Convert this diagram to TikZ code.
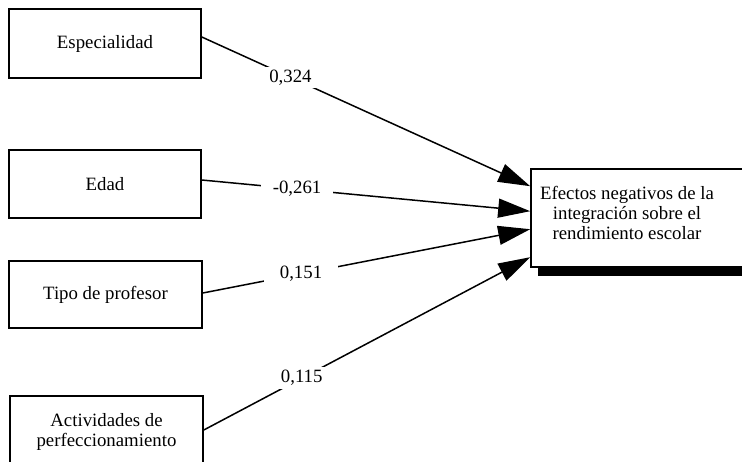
\documentclass[tikz,border=0pt]{standalone}
\usepackage{fontspec}
\setmainfont{Liberation Serif}
\usetikzlibrary{arrows.meta}
\begin{document}
\begin{tikzpicture}[x=1pt,y=-1pt,
  txt/.style={font=\fontsize{18.8}{20}\selectfont},
  box/.style={txt, draw, line width=1.6pt, minimum width=192pt, align=center, inner sep=0pt},
  conn/.style={line width=1.5pt, -{Triangle[length=32pt,width=19pt]}},
  coef/.style={txt, fill=white, inner ysep=3pt}]
\useasboundingbox (0,0) rectangle (742,461);
\node[box, minimum height=69pt] (esp) at (105,43.5) {Especialidad};
\node[box, minimum height=68pt] (edad) at (105,184) {Edad};
\node[box, minimum width=193pt, minimum height=67pt] (tipo) at (105.5,294.5) {Tipo de profesor};
\node[box, minimum width=193pt, minimum height=72pt] (act) at (106.5,432) {Actividades de\\perfeccionamiento};
% target with drop shadow
\fill[black] (538,176) rectangle (778,276);
\node[draw, fill=white, line width=1.6pt, minimum width=240pt, minimum height=98pt, inner sep=0pt] (t) at (651,218) {};
\node[txt, align=center] (tlabel) at (627,213) {Efectos negativos de la\\integración sobre el\\rendimiento escolar};
% connectors
\draw[conn] ([yshift=6.5pt]esp.east) -- node[coef, pos=0.27, inner xsep=4pt] {0,324} ([yshift=-18pt]t.north west);
\draw[conn] ([yshift=4pt]edad.east) -- node[coef, pos=0.29, inner xsep=12pt] {-0,261} ([yshift=-43pt]t.north west);
\draw[conn] ([yshift=1.5pt]tipo.east) -- node[coef, pos=0.30, inner xsep=16pt] {0,151} ([yshift=-61pt]t.north west);
\draw[conn] ([yshift=2pt]act.east) -- node[coef, pos=0.30, inner xsep=4pt] {0,115} ([yshift=-89pt]t.north west);
\end{tikzpicture}
\end{document}
